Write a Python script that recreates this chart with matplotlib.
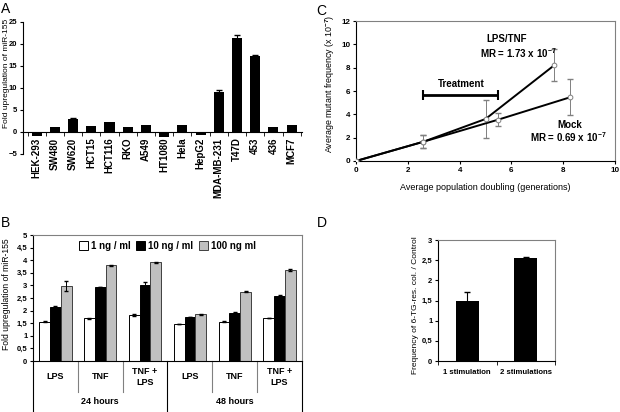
"""Four-panel figure: miR-155 upregulation, stimulation series, mutant frequency."""

import matplotlib

matplotlib.use("Agg")

import matplotlib.pyplot as plt  # noqa: E402
import numpy as np  # noqa: E402
from matplotlib.ticker import FixedLocator, FuncFormatter  # noqa: E402
import matplotlib.transforms as mtrans  # noqa: E402

plt.rcParams["font.family"] = ["Liberation Sans", "DejaVu Sans"]
plt.rcParams["font.weight"] = "bold"
plt.rcParams["mathtext.fontset"] = "custom"
plt.rcParams["mathtext.rm"] = "Liberation Sans:bold"
plt.rcParams["mathtext.it"] = "Liberation Sans:bold"
plt.rcParams["mathtext.bf"] = "Liberation Sans:bold"

# ---- panel A data
cell_lines = ["HEK-293", "SW480", "SW620", "HCT15", "HCT116", "RKO", "A549", "HT1080",
              "Hela", "HepG2", "MDA-MB-231", "T47D", "453", "436", "MCF7"]
fold_a = [-1.0, 1.1, 3.0, 1.4, 2.3, 1.2, 1.7, -1.2, 1.5, -0.6, 9.0, 21.3, 17.2, 1.2, 1.6]
err_a = [0, 0, 0.15, 0, 0, 0, 0, 0, 0, 0, 0.6, 0.7, 0.2, 0, 0]

# ---- panel B data
treatments = ["LPS", "TNF", "TNF +\nLPS", "LPS", "TNF", "TNF +\nLPS"]
time_groups = ["24 hours", "48 hours"]
doses = ["1 ng / ml", "10 ng / ml", "100 ng ml"]
fold_1ng = [1.55, 1.70, 1.82, 1.47, 1.55, 1.70]
fold_10ng = [2.15, 2.93, 3.00, 1.75, 1.92, 2.58]
fold_100ng = [2.97, 3.80, 3.92, 1.85, 2.75, 3.62]
err_1ng = [0.02, 0.02, 0.03, 0.01, 0.02, 0.0]
err_10ng = [0.03, 0.0, 0.13, 0.01, 0.02, 0.03]
err_100ng = [0.20, 0.02, 0.02, 0.02, 0.01, 0.05]

# ---- panel C data
pd_lps = [0, 2.6, 5.0, 7.65]
mf_lps = [0, 1.65, 3.6, 8.2]
mf_lps_lo = [0, 1.1, 2.0, 6.85]
mf_lps_hi = [0, 2.2, 5.2, 9.6]
pd_mock = [0, 2.6, 5.5, 8.25]
mf_mock = [0, 1.65, 3.55, 5.45]
mf_mock_lo = [0, 1.1, 3.0, 3.9]
mf_mock_hi = [0, 2.2, 4.1, 7.0]
treatment_span = [2.6, 5.5]
treatment_level = 5.65

# ---- panel D data
stimulations = ["1 stimulation", "2 stimulations"]
freq_d = [1.5, 2.55]
err_d = [0.2, 0.04]

W, H = 620, 412
GRAY = "#808080"


def box(left, top, right, bottom):
    return [left / W, 1 - bottom / H, (right - left) / W, (bottom - top) / H]


comma = FuncFormatter(lambda v, _: f"{v:g}".replace(".", ","))

fig = plt.figure(figsize=(W / 100, H / 100), dpi=100)
for letter, (x, y) in zip("ABCD", [(1, 2), (1, 216), (316, 4), (317, 216)]):
    fig.text(x / W, 1 - y / H, letter, fontsize=10, fontweight="normal", va="top")

# ---------------- A
ax = fig.add_axes(box(23, 22, 302, 154))
xa = np.arange(len(cell_lines))
has_err = np.array(err_a) > 0
ax.bar(xa, fold_a, width=0.55, color="black")
ax.errorbar(xa[has_err], np.array(fold_a)[has_err], yerr=np.array(err_a)[has_err],
            fmt="none", ecolor="black", elinewidth=0.8, capsize=2)
ax.set_xlim(-0.75, 14.57)
ax.set_ylim(-5, 25)
ax.set_yticks(range(-5, 26, 5))
ax.spines["bottom"].set_position(("data", 0))
ax.spines[["top", "right"]].set_visible(False)
ax.set_xticks(xa)
ax.set_xticklabels(cell_lines, rotation=90, fontsize=7)
ax.tick_params(axis="x", which="major", length=0, pad=4)
ax.xaxis.set_minor_locator(FixedLocator(np.arange(-0.5, 14.6, 1)))
ax.tick_params(axis="x", which="minor", length=3, direction="out")
ax.tick_params(axis="y", labelsize=5.5, length=2, pad=2)
ax.set_ylabel("Fold upregulation of miR-155", fontsize=6.0)
ax.yaxis.set_label_coords(-0.045, 0.61)

# ---------------- B
ax = fig.add_axes(box(33, 235, 302, 361))
xb = np.arange(len(treatments))
bw = 0.24
ax.bar(xb - bw, fold_1ng, bw, yerr=err_1ng, color="white", edgecolor="black", lw=0.7,
       error_kw=dict(elinewidth=0.7, capsize=1.5), label=doses[0])
ax.bar(xb, fold_10ng, bw, yerr=err_10ng, color="black", edgecolor="black", lw=0.7,
       error_kw=dict(elinewidth=0.7, capsize=1.5), label=doses[1])
ax.bar(xb + bw, fold_100ng, bw, yerr=err_100ng, color="#c0c0c0", edgecolor="#404040", lw=0.7,
       error_kw=dict(elinewidth=0.7, capsize=1.5), label=doses[2])
ax.set_xlim(-0.5, 5.5)
ax.set_ylim(0, 5)
ax.set_yticks(np.arange(0, 5.01, 0.5))
ax.yaxis.set_major_formatter(comma)
ax.tick_params(axis="y", labelsize=5.5, length=2, pad=2)
ax.set_xticks([])
for side in ("top", "right"):
    ax.spines[side].set_color(GRAY)
ax.set_ylabel("Fold upregulation of miR-155", fontsize=6.2)
ax.yaxis.set_label_coords(-0.083, 0.53)
ax.legend(loc="upper center", bbox_to_anchor=(0.5, 1.0), ncol=3, frameon=False, fontsize=7,
          handlelength=0.9, handleheight=0.9, handletextpad=0.3, columnspacing=0.6,
          borderaxespad=0.2)
trans = mtrans.blended_transform_factory(ax.transData, ax.transAxes)
for xv in [-0.5, 2.5, 5.5]:
    ax.plot([xv, xv], [0, -0.41], color="black", lw=0.8, transform=trans, clip_on=False)
for xv in [0.5, 1.5, 3.5, 4.5]:
    ax.plot([xv, xv], [0, -0.246], color=GRAY, lw=0.8, transform=trans, clip_on=False)
for xv, lab in zip(xb, treatments):
    ax.text(xv, -0.125, lab, transform=trans, ha="center", va="center", fontsize=6.5,
            linespacing=1.3)
for i, lab in enumerate(time_groups):
    ax.text(1 + 3 * i, -0.325, lab, transform=trans, ha="center", va="center", fontsize=6.5)

# ---------------- C
ax = fig.add_axes(box(356, 21, 615, 161))
lps_err = [np.array(mf_lps) - np.array(mf_lps_lo), np.array(mf_lps_hi) - np.array(mf_lps)]
mock_err = [np.array(mf_mock) - np.array(mf_mock_lo), np.array(mf_mock_hi) - np.array(mf_mock)]
ax.errorbar(pd_lps, mf_lps, yerr=lps_err, fmt="none", ecolor=GRAY, elinewidth=0.7, capsize=2)
ax.errorbar(pd_mock, mf_mock, yerr=mock_err, fmt="none", ecolor=GRAY, elinewidth=0.7, capsize=2)
ax.plot(pd_lps, mf_lps, color="black", lw=1.4, zorder=3)
ax.plot(pd_mock, mf_mock, color="black", lw=1.4, zorder=3)
ax.plot(pd_lps + pd_mock, mf_lps + mf_mock, ls="none", marker="o", ms=3.4, mfc="white",
        mec=GRAY, mew=0.7, zorder=4)
mid = sum(treatment_span) / 2
half = (treatment_span[1] - treatment_span[0]) / 2
ax.errorbar([mid], [treatment_level], xerr=[half], fmt="none", ecolor="black", elinewidth=2,
            capsize=3.5, capthick=1.5)
ax.text(mid, treatment_level + 0.55, "Treatment", ha="center", va="bottom", fontsize=7)
ax.text(5.83, 10.45, "LPS/TNF", ha="center", va="center", fontsize=7)
ax.text(6.25, 9.26, "MR = 1.73 x 10$^{-7}$", ha="center", va="center", fontsize=7)
ax.text(8.26, 3.09, "Mock", ha="center", va="center", fontsize=7)
ax.text(8.2, 2.06, "MR = 0.69 x 10$^{-7}$", ha="center", va="center", fontsize=7)
ax.set_xlim(0, 10)
ax.set_ylim(0, 12)
ax.set_xticks(range(0, 11, 2))
ax.set_yticks(range(0, 13, 2))
ax.tick_params(labelsize=5.8, length=2, pad=2)
for side in ("top", "right"):
    ax.spines[side].set_color(GRAY)
ax.set_xlabel("Average population doubling (generations)", fontsize=6.5)
ax.set_ylabel("Average mutant frequency (x 10$^{-7}$)", fontsize=6.4)
ax.xaxis.set_label_coords(0.5, -0.157)
ax.yaxis.set_label_coords(-0.073, 0.55)

# ---------------- D
ax = fig.add_axes(box(438, 240, 555, 361))
xd = np.arange(len(stimulations))
ax.bar(xd, freq_d, width=0.4, color="black", yerr=err_d,
       error_kw=dict(elinewidth=0.8, capsize=2))
ax.set_xlim(-0.5, 1.5)
ax.set_ylim(0, 3)
ax.set_yticks(np.arange(0, 3.01, 0.5))
ax.yaxis.set_major_formatter(comma)
ax.set_xticks(xd)
ax.set_xticklabels(stimulations, fontsize=5.6)
ax.tick_params(axis="x", which="major", length=0, pad=6)
ax.xaxis.set_minor_locator(FixedLocator([-0.5, 0.5, 1.5]))
ax.tick_params(axis="x", which="minor", length=3)
ax.tick_params(axis="y", labelsize=5.5, length=2, pad=2)
for side in ("top", "right"):
    ax.spines[side].set_color(GRAY)
ax.set_ylabel("Frequency of 6-TG-res. col. / Control", fontsize=6)
ax.yaxis.set_label_coords(-0.162, 0.463)

fig.savefig("out.png", dpi=100)
plt.close(fig)
